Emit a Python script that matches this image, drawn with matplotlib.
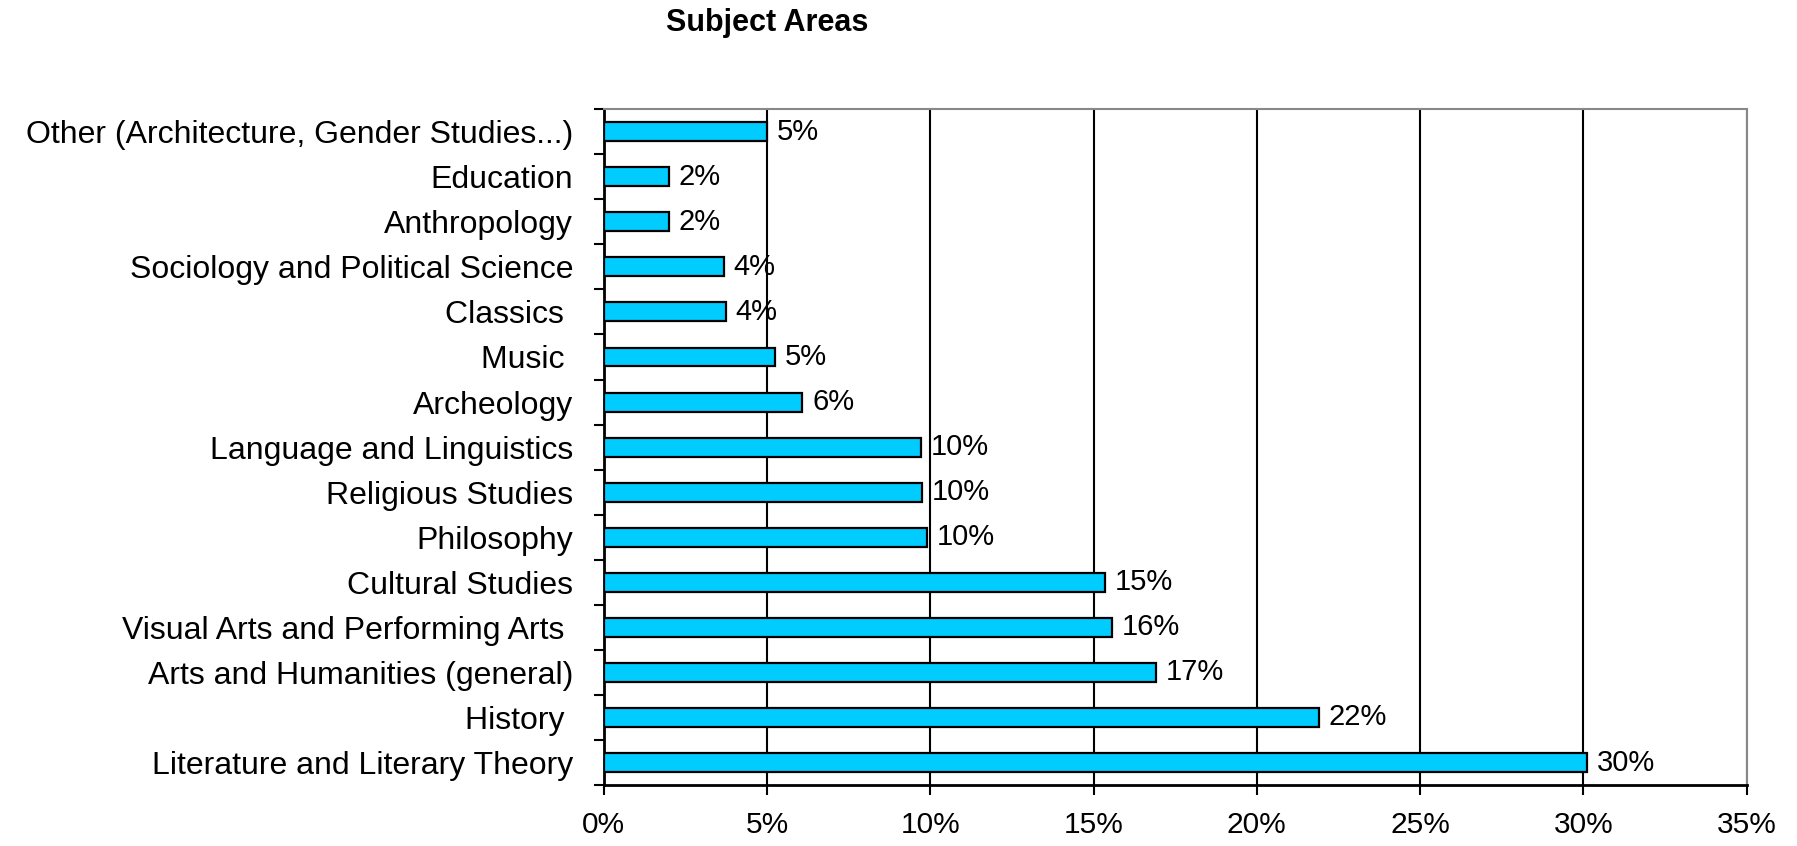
import numpy as np
import matplotlib
matplotlib.use("Agg")
import matplotlib.pyplot as plt

# categories listed bottom to top, as drawn
subjects = [
    "Literature and Literary Theory",
    "History ",
    "Arts and Humanities (general)",
    "Visual Arts and Performing Arts ",
    "Cultural Studies",
    "Philosophy",
    "Religious Studies",
    "Language and Linguistics",
    "Archeology",
    "Music ",
    "Classics ",
    "Sociology and Political Science",
    "Anthropology",
    "Education",
    "Other (Architecture, Gender Studies...)",
]
shares = [30.1, 21.9, 16.9, 15.55, 15.35, 9.9, 9.74, 9.72, 6.08, 5.23, 3.74, 3.67, 2.0, 2.0, 5.0]
xticks = [0, 5, 10, 15, 20, 25, 30, 35]

plt.rcParams['font.family'] = ['Liberation Sans', 'DejaVu Sans']

fig = plt.figure(figsize=(17.97, 8.46), dpi=100)
ax = fig.add_axes([0.336, 0.072, 0.636, 0.799])

y = np.arange(len(subjects))
ax.barh(y, shares, height=0.42, color='#00CCFF', edgecolor='black', linewidth=1.6, zorder=3)

for yi, v in zip(y, shares):
    ax.text(v + 0.3, yi, f"{round(v)}%", va='center', ha='left', fontsize=21, zorder=4)

ax.set_xlim(0, 35)
ax.set_ylim(-0.5, len(subjects) - 0.5)
ax.set_xticks(xticks)
ax.set_xticklabels([f"{t}%" for t in xticks], fontsize=21.5)
ax.xaxis.grid(True, color='black', linewidth=1.5, zorder=1)

# labels centred on bars, tick marks on the boundaries between them
ax.set_yticks(y)
ax.set_yticklabels(subjects, fontsize=23)
ax.tick_params(axis='y', which='major', length=0, pad=22)
ax.set_yticks(np.arange(-0.5, len(subjects)), minor=True)
ax.tick_params(axis='y', which='minor', length=7, width=1.5, direction='out')
ax.tick_params(axis='x', length=7, width=1.5, direction='out', pad=12)

ax.spines['left'].set_linewidth(2)
ax.spines['bottom'].set_linewidth(2)
ax.spines['top'].set_color('#888888')
ax.spines['right'].set_color('#888888')
ax.spines['top'].set_linewidth(1.5)
ax.spines['right'].set_linewidth(1.5)

fig.text(0.427, 0.973, "Subject Areas", fontsize=22, fontweight='bold', ha='center', va='center')

fig.savefig("out.png", dpi=100)
